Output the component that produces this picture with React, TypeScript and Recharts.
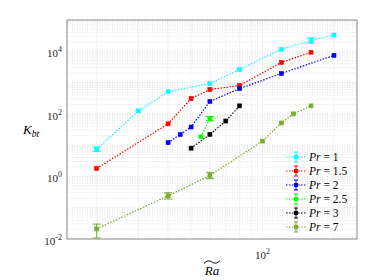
import {
  CartesianGrid,
  ComposedChart,
  ErrorBar,
  Label,
  Legend,
  Line,
  ReferenceArea,
  XAxis,
  YAxis,
} from "recharts";

// Ra~ values (x) and K_bt values (y), one pair of arrays per Pr
const pr1X = [20, 30, 40, 60, 80, 120, 160, 200];
const pr1Y = [7.4, 125, 510, 930, 2600, 11600, 22000, 33000];
const pr1Err: (number[] | null)[] = [[1.1, 1.2], null, null, null, null, null, [4000, 5000], null];

const pr15X = [20, 40, 50, 60, 80, 120, 160];
const pr15Y = [1.8, 48, 310, 600, 800, 4400, 9300];

const pr2X = [40, 45, 50, 60, 80, 120, 200];
const pr2Y = [12, 22, 38, 250, 640, 1950, 7400];

const pr25X = [55, 60];
const pr25Y = [18.5, 70];
const pr25Err: (number[] | null)[] = [null, [10, 12]];

const pr3X = [50, 60, 70, 80];
const pr3Y = [8, 22, 59, 180];

const pr7X = [20, 40, 60, 100, 120, 135, 160];
const pr7Y = [0.021, 0.24, 1.07, 13.5, 51, 100, 180];
const pr7Err: (number[] | null)[] = [[0.0102, 0.009], [0.05, 0.06], [0.22, 0.28], null, null, null, null];

const xTicks = [20, 30, 40, 50, 60, 70, 80, 90, 100, 200];
const xLabeled = [100];
const yTicks = [-2, -1, 0, 1, 2, 3, 4].flatMap((e) => [1, 2, 3, 4, 5, 6, 7, 8, 9].map((m) => m * 10 ** e)).concat([1e5]);
const yLabeled = [1e-2, 1, 1e2, 1e4];

const serif = "'Liberation Serif', 'DejaVu Serif', serif";

function rows(xs: number[], ys: number[], errs?: (number[] | null)[]) {
  return xs.map((x, i) => ({ x, y: ys[i], err: errs ? errs[i] ?? undefined : undefined }));
}

const series = [
  { name: "1", color: "#00ffff", data: rows(pr1X, pr1Y, pr1Err) },
  { name: "1.5", color: "#ff0000", data: rows(pr15X, pr15Y) },
  { name: "2", color: "#0000ff", data: rows(pr2X, pr2Y) },
  { name: "2.5", color: "#00ff00", data: rows(pr25X, pr25Y, pr25Err) },
  { name: "3", color: "#000000", data: rows(pr3X, pr3Y) },
  { name: "7", color: "#77ac30", data: rows(pr7X, pr7Y, pr7Err) },
];

function squareDot(color: string) {
  return (props: any) => {
    const { cx, cy, key, index } = props;
    if (cx == null || cy == null) return <g key={key ?? index} />;
    return <rect key={key ?? index} x={cx - 2} y={cy - 2} width={4} height={4} fill={color} stroke={color} strokeWidth={0.6} />;
  };
}

function pow10(value: number) {
  return Math.round(Math.log10(value));
}

function XTick(props: any) {
  const { x, y, payload } = props;
  if (!xLabeled.includes(payload.value)) return <g />;
  return (
    <text x={x} y={y + 15} textAnchor="middle" fontFamily={serif} fontSize={11} fill="#262626">
      10<tspan dy={-5} fontSize={8}>{pow10(payload.value)}</tspan>
    </text>
  );
}

function YTick(props: any) {
  const { x, y, payload } = props;
  if (!yLabeled.some((v) => Math.abs(v - payload.value) / v < 1e-6)) return <g />;
  return (
    <text x={x} y={y + 6} textAnchor="end" fontFamily={serif} fontSize={11} fill="#262626">
      10<tspan dy={-5} fontSize={8}>{pow10(payload.value)}</tspan>
    </text>
  );
}

function LegendBox() {
  return (
    <div style={{ fontFamily: serif, fontSize: 11.5, color: "#000", lineHeight: "14px" }}>
      {series.map((s) => (
        <div key={s.name} style={{ display: "flex", alignItems: "center", height: 14 }}>
          <svg width={22} height={14}>
            <line x1={1} x2={21} y1={7} y2={7} stroke={s.color} strokeWidth={1.2} strokeDasharray="1.5 1.5" />
            <line x1={11} x2={11} y1={2} y2={12} stroke={s.color} strokeWidth={1} />
            <line x1={9} x2={13} y1={2} y2={2} stroke={s.color} strokeWidth={1} />
            <line x1={9} x2={13} y1={12} y2={12} stroke={s.color} strokeWidth={1} />
            <rect x={9} y={5} width={4} height={4} fill={s.color} />
          </svg>
          <span style={{ marginLeft: 2, whiteSpace: "nowrap" }}>
            <i>Pr</i> = {s.name}
          </span>
        </div>
      ))}
    </div>
  );
}

export default function App() {
  return (
    <div style={{ position: "absolute", left: 0, top: 0, width: 374, height: 280, background: "#fff" }}>
      <ComposedChart width={374} height={280} margin={{ top: 20, right: 17, bottom: 11, left: 17 }}>
        <CartesianGrid stroke="#dcdcdc" strokeDasharray="1 1.5" strokeWidth={0.8} />
        <XAxis
          dataKey="x"
          type="number"
          scale="log"
          domain={[15, 250]}
          allowDataOverflow
          ticks={xTicks}
          tick={<XTick />}
          tickLine={false}
          tickSize={3}
          tickMargin={2}
          interval={0}
          height={30}
          axisLine={false}
          stroke="#999"
        >
          <Label
            content={(p: any) => {
              const vb = p.viewBox;
              const cx = vb.x + vb.width / 2;
              const ty = vb.y + 23;
              return (
                <g fontFamily={serif} fill="#000">
                  <text x={cx} y={vb.y + 36} textAnchor="middle" fontSize={13} fontStyle="italic">Ra</text>
                  <path
                    d={`M${cx - 8} ${ty + 1.5} Q${cx - 4} ${ty - 3} ${cx} ${ty} T${cx + 8} ${ty - 1.5}`}
                    fill="none"
                    stroke="#000"
                    strokeWidth={0.9}
                  />
                </g>
              );
            }}
          />
        </XAxis>
        <YAxis
          dataKey="y"
          type="number"
          scale="log"
          domain={[0.01, 1e5]}
          allowDataOverflow
          ticks={yTicks}
          tick={<YTick />}
          tickLine={false}
          tickSize={3}
          tickMargin={2}
          interval={0}
          width={50}
          axisLine={false}
        >
          <Label
            content={(p: any) => {
              const vb = p.viewBox;
              const cy = vb.y + vb.height / 2;
              return (
                <text x={vb.x + 6} y={cy + 4} fontFamily={serif} fontSize={13} fontStyle="italic" fill="#000">
                  K<tspan dy={3} fontSize={9.5}>bt</tspan>
                </text>
              );
            }}
          />
        </YAxis>
        <ReferenceArea x1={15} x2={250} y1={0.01} y2={1e5} fill="none" stroke="#8a8a8a" strokeWidth={1} ifOverflow="visible" />
        {series.map((s) => (
          <Line
            key={s.name}
            data={s.data}
            dataKey="y"
            name={`Pr = ${s.name}`}
            stroke={s.color}
            strokeWidth={1.2}
            strokeDasharray="1.5 1.5"
            dot={squareDot(s.color)}
            activeDot={false}
            isAnimationActive={false}
            type="linear"
          >
            <ErrorBar dataKey="err" direction="y" width={4} strokeWidth={1} stroke={s.color} isAnimationActive={false} />
          </Line>
        ))}
        <Legend
          layout="vertical"
          align="center"
          verticalAlign="middle"
          content={() => <LegendBox />}
          wrapperStyle={{ position: "absolute", left: 285, top: 150, width: 80 }}
        />
      </ComposedChart>
    </div>
  );
}
